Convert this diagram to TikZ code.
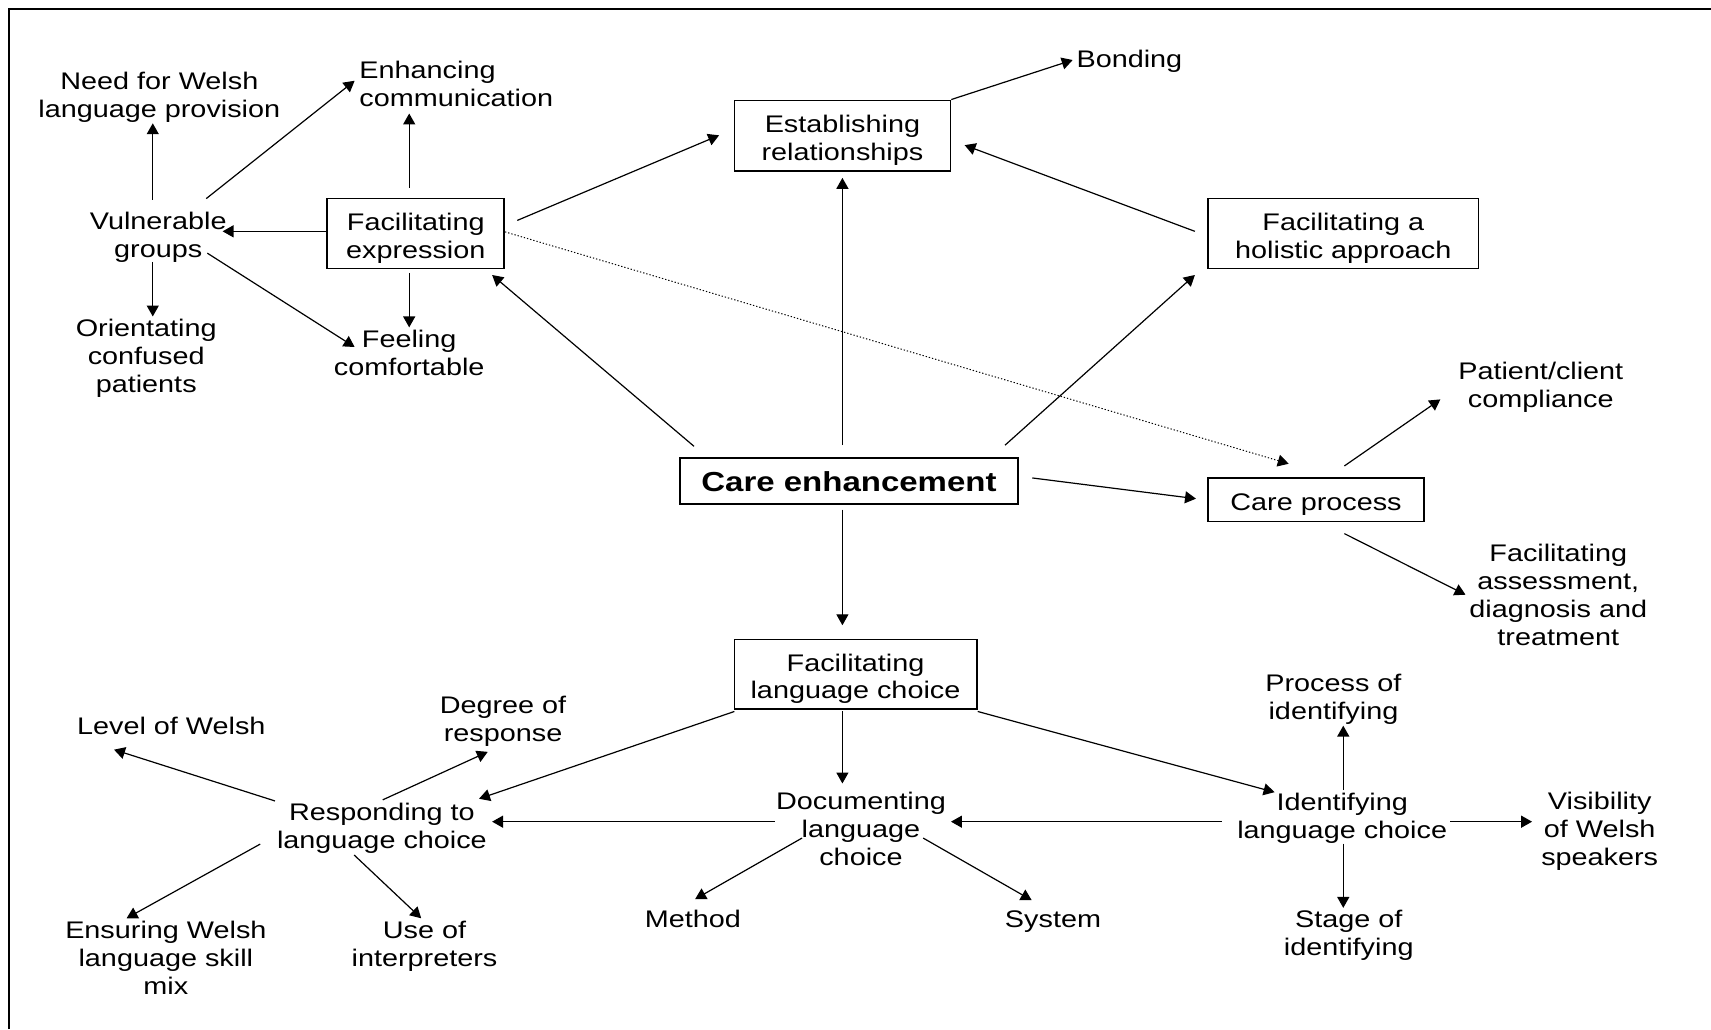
\documentclass[tikz,border=0pt]{standalone}
\usepackage{fontspec}
\setmainfont{Liberation Sans}[FakeStretch=1.2]
\usetikzlibrary{arrows.meta}
% invisible rules that give the first line of a label a fixed height
\newcommand\lblstrut{\rule{0pt}{10.5pt}}
\newcommand\boxstrut{\rule{0pt}{12pt}}
\begin{document}
\begin{tikzpicture}[x=0.5pt,y=-0.5pt,
  lbl/.style={align=center,inner sep=0pt,font=\fontsize{11}{12.8}\selectfont},
  box/.style={draw,line width=0.8pt,inner sep=0pt,align=center,font=\fontsize{11}{12.8}\selectfont},
  arr/.style={line width=0.55pt,-{Triangle[length=5pt,width=5.5pt]}},
  dotarr/.style={arr,line width=0.45pt,dash pattern=on 0.6pt off 0.9pt}
]
\useasboundingbox (0,0) rectangle (1568,943);
% outer frame (top and left edges)
\draw[line width=1pt] (8.5,943) -- (8.5,8.5) -- (1568,8.5);

% boxed concepts
\node[box,minimum width=99pt,minimum height=32.5pt] (estab) at (772,124.5) {\boxstrut Establishing\\relationships};
\node[box,minimum width=81pt,minimum height=32pt] (facexpr) at (381,214) {\boxstrut Facilitating\\expression};
\node[box,minimum width=124pt,minimum height=32pt] (holistic) at (1231,214) {\boxstrut Facilitating a\\holistic approach};
\node[box,minimum width=155pt,minimum height=21pt,font=\fontsize{12.6}{14}\selectfont\bfseries] (care) at (778,441) {Care enhancement};
\node[box,minimum width=99pt,minimum height=20pt] (cproc) at (1206,458) {\boxstrut Care process};
\node[box,minimum width=111pt,minimum height=32pt] (faclang) at (784,618) {\boxstrut Facilitating\\language choice};

% free-standing labels
\node[lbl] (need) at (146,86.5) {\lblstrut Need for Welsh\\language provision};
\node[lbl,align=left,anchor=west] (enh) at (329,76.5) {Enhancing\\communication};
\node[lbl] (vuln) at (145,215) {\lblstrut Vulnerable\\groups};
\node[lbl] (orient) at (134,325.5) {\lblstrut Orientating\\confused\\patients};
\node[lbl] (feel) at (375,323.5) {Feeling\\comfortable};
\node[lbl] (bond) at (1035,54) {\lblstrut Bonding};
\node[lbl] (patient) at (1412,352.5) {\lblstrut Patient/client\\compliance};
\node[lbl] (assess) at (1428,545) {Facilitating\\assessment,\\diagnosis and\\treatment};
\node[lbl] (level) at (157,665) {Level of Welsh};
\node[lbl] (degree) at (461,658.5) {\lblstrut Degree of\\response};
\node[lbl] (procid) at (1222,638.5) {\lblstrut Process of\\identifying};
\node[lbl] (resp) at (350,756.5) {\lblstrut Responding to\\language choice};
\node[lbl] (doc) at (789,760) {Documenting\\language\\choice};
\node[lbl] (ident) at (1230,747) {\lblstrut Identifying\\language choice};
\node[lbl] (vis) at (1466,759.5) {\lblstrut Visibility\\of Welsh\\speakers};
\node[lbl] (ensure) at (152,877.5) {Ensuring Welsh\\language skill\\mix};
\node[lbl] (use) at (389,864.5) {\lblstrut Use of\\interpreters};
\node[lbl] (method) at (635,842) {Method};
\node[lbl] (system) at (965,842) {\lblstrut System};
\node[lbl] (stage) at (1236,854.5) {\lblstrut Stage of\\identifying};

% upper left cluster
\draw[arr] ([shift={(-5,-32)}]vuln.center) -- ([shift={(-6,26.5)}]need.center);
\draw[arr] ([shift={(44,-33)}]vuln.center) -- ([shift={(-4,-2.5)}]enh.west);
\draw[arr] ([shift={(0,-2)}]facexpr.west) -- ([shift={(59,-3)}]vuln.center);
\draw[arr] ([shift={(-5,25)}]vuln.center) -- ([shift={(6,-35.5)}]orient.center);
\draw[arr] ([shift={(45,17)}]vuln.center) -- ([shift={(-50,-5.5)}]feel.center);
\draw[arr] ([shift={(-6,-42)}]facexpr.center) -- ([shift={(46,27.5)}]enh.west);
\draw[arr] ([shift={(-6,36)}]facexpr.center) -- ([shift={(0,-23.5)}]feel.center);
\draw[arr] ([shift={(93,-12)}]facexpr.center) -- ([shift={(-113,-0.5)}]estab.center);
\draw[dotarr] ([shift={(0,-1.5)}]facexpr.east) -- ([shift={(-25,-33)}]cproc.center);

% upper centre and right
\draw[arr] (estab.north east) -- ([shift={(-52,1)}]bond.center);
\draw[arr] ([shift={(-6,-33)}]care.center) -- ([shift={(0,38.5)}]estab.center);
\draw[arr] ([shift={(-136,-2)}]holistic.center) -- ([shift={(112,8.5)}]estab.center);
\draw[arr] ([shift={(143,-33)}]care.center) -- ([shift={(-136,38)}]holistic.center);
\draw[arr] ([shift={(-142,-32)}]care.center) -- ([shift={(70,38)}]facexpr.center);
\draw[arr] ([shift={(168,-3)}]care.center) -- ([shift={(-110,-1)}]cproc.center);
\draw[arr] ([shift={(26,-31)}]cproc.center) -- ([shift={(-92,13.5)}]patient.center);
\draw[arr] ([shift={(26,31)}]cproc.center) -- ([shift={(-85,0)}]assess.center);

% language choice branch
\draw[arr] ([shift={(-6,26)}]care.center) -- ([shift={(-12,-45)}]faclang.center);
\draw[arr] ([shift={(-111,34)}]faclang.center) -- ([shift={(89,-24.5)}]resp.center);
\draw[arr] ([shift={(-12,34)}]faclang.center) -- ([shift={(-17,-42)}]doc.center);
\draw[arr] ([shift={(112,34)}]faclang.center) -- ([shift={(-62,-21)}]ident.center);
\draw[arr] ([shift={(-79,-7)}]doc.center) -- ([shift={(101,-3.5)}]resp.center);
\draw[arr] ([shift={(-110.5,6)}]ident.center) -- ([shift={(82.5,-7)}]doc.center);
\draw[arr] ([shift={(-54,8)}]doc.center) -- ([shift={(2,-18)}]method.center);
\draw[arr] ([shift={(57,8)}]doc.center) -- ([shift={(-19.5,-17)}]system.center);
\draw[arr] ([shift={(1,-23)}]ident.center) -- ([shift={(9,26.5)}]procid.center);
\draw[arr] ([shift={(1,26)}]ident.center) -- ([shift={(-5,-22.5)}]stage.center);
\draw[arr] ([shift={(99,6)}]ident.center) -- ([shift={(-62,-6.5)}]vis.center);
\draw[arr] ([shift={(-98,-22.5)}]resp.center) -- ([shift={(-52.5,22)}]level.center);
\draw[arr] ([shift={(0.7,-23.5)}]resp.center) -- ([shift={(-14,30.5)}]degree.center);
\draw[arr] ([shift={(-111.5,17)}]resp.center) -- ([shift={(-36,-36)}]ensure.center);
\draw[arr] ([shift={(-25.5,27)}]resp.center) -- ([shift={(-3,-23)}]use.center);
\end{tikzpicture}
\end{document}
